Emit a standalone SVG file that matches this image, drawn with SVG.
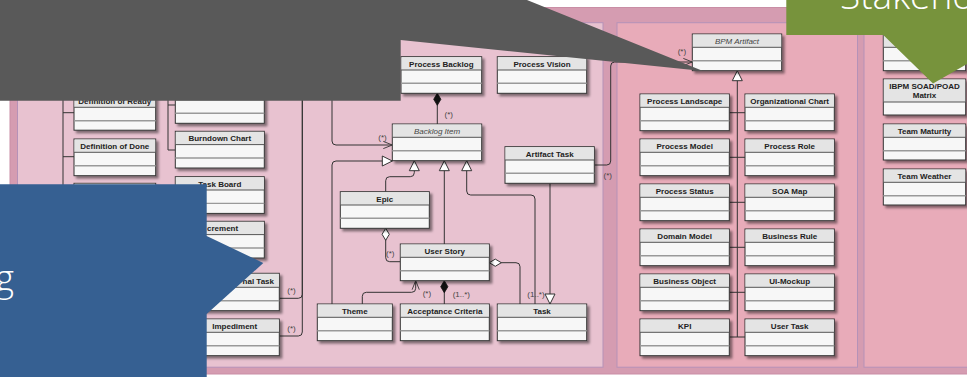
<svg xmlns="http://www.w3.org/2000/svg" width="967" height="377" viewBox="0 0 967 377">
  <defs>
    <style>
      .frame { fill: #d59cb1; stroke: #c98ea5; stroke-width: 1; }
      .pkgA { fill: #e8c2d0; stroke: #b592b8; stroke-width: 1; }
      .pkgB { fill: #e8abb9; stroke: #b592b8; stroke-width: 1; }
      .box { fill: #f7f7f7; stroke: #333; stroke-width: 1; filter: url(#shadow); }
      .hd { fill: #e4e4e4; stroke: none; }
      .s1 { stroke: #555; stroke-width: 1; fill: none; }
      .s2 { stroke: #999; stroke-width: 1.4; fill: none; }
      .t { font-family: "Liberation Sans", Arial, sans-serif; font-size: 8px; font-weight: bold; fill: #222; text-anchor: middle; }
      .ti { font-family: "Liberation Sans", Arial, sans-serif; font-size: 8px; font-style: italic; fill: #444; text-anchor: middle; }
      .lbl { font-family: "Liberation Sans", Arial, sans-serif; font-size: 8px; fill: #444; }
      .conn { fill: none; stroke: #333; stroke-width: 1; }
      .callout-text { font-family: "Open Sans", "Liberation Sans", sans-serif; font-weight: 300; fill: #ffffff; }
    </style>
    <filter id="shadow" x="-10%" y="-10%" width="130%" height="140%">
      <feDropShadow dx="2.5" dy="2.5" stdDeviation="1.2" flood-color="#000" flood-opacity="0.45"/>
    </filter>
    <marker id="tri" viewBox="0 0 10 10" refX="10" refY="5" markerWidth="10" markerHeight="10" markerUnits="userSpaceOnUse" orient="auto" overflow="visible">
      <path d="M0,0 L10,5 L0,10 Z" fill="#fff" stroke="#333" stroke-width="1"/>
    </marker>
    <marker id="open" viewBox="0 0 10 10" refX="10" refY="5" markerWidth="9" markerHeight="9" markerUnits="userSpaceOnUse" orient="auto" overflow="visible">
      <path d="M0,1 L10,5 L0,9" fill="none" stroke="#333" stroke-width="1"/>
    </marker>
    <marker id="diaFill" viewBox="0 0 12 8" refX="0" refY="4" markerWidth="12" markerHeight="8" markerUnits="userSpaceOnUse" orient="auto" overflow="visible">
      <path d="M0,4 L6,0.4 L12,4 L6,7.6 Z" fill="#111" stroke="#111" stroke-width="0.8"/>
    </marker>
    <marker id="diaOpen" viewBox="0 0 12 8" refX="0" refY="4" markerWidth="12" markerHeight="8" markerUnits="userSpaceOnUse" orient="auto" overflow="visible">
      <path d="M0,4 L6,0.4 L12,4 L6,7.6 Z" fill="#fff" stroke="#333" stroke-width="1"/>
    </marker>
  </defs>

  <rect x="0" y="0" width="967" height="377" fill="#ffffff"/>

  <!-- packages -->
  <g id="packages">
    <rect class="frame" x="10" y="7.5" width="965" height="366.5"/>
    <rect class="pkgA" x="17.5" y="22.7" width="585.5" height="344.5"/>
    <rect class="pkgB" x="617" y="22.7" width="240.5" height="344.5"/>
    <rect class="pkgB" x="864" y="22.7" width="120" height="344.5"/>
  </g>

  <!-- connectors -->
  <g id="connectors">
    <path class="conn" d="M63,96 V200 M63,112.7 H74 M63,156.7 H74"/>
    <path class="conn" d="M168,96 V150 M168,105 H175.3 M168,150 H175.3"/>
    <path class="conn" d="M279.3,298.3 H298.3 Q302.3,298.3 302.3,294.3 V96"/>
    <path class="conn" d="M279.3,336 H298.3 Q302.3,336 302.3,332 V96"/>
    <path class="conn" d="M332,96 V141 Q332,145 336,145 H392.3" marker-end="url(#open)"/>
    <path class="conn" d="M332,304 V165 Q332,161 336,161 H392.3" marker-end="url(#tri)"/>
    <path class="conn" d="M437.3,93.3 V124" marker-start="url(#diaFill)"/>
    <path class="conn" d="M385.7,191.7 V180.7 Q385.7,176.7 389.7,176.7 H410.3 Q414.3,176.7 414.3,172.7 V160.7" marker-end="url(#tri)"/>
    <path class="conn" d="M444.3,244 V160.7" marker-end="url(#tri)"/>
    <path class="conn" d="M535,304 V199 Q535,195 531,195 H470.7 Q466.7,195 466.7,191 V160.7" marker-end="url(#tri)"/>
    <path class="conn" d="M550,183.3 V304" marker-end="url(#tri)"/>
    <path class="conn" d="M385.7,228.3 V257.7 Q385.7,261.7 389.7,261.7 H400.3" marker-start="url(#diaOpen)"/>
    <path class="conn" d="M489.3,262.7 H516 Q520,262.7 520,266.7 V304" marker-start="url(#diaOpen)"/>
    <path class="conn" d="M444.3,280.7 V304" marker-start="url(#diaFill)"/>
    <path class="conn" d="M362.3,304 V296.3 Q362.3,292.3 366.3,292.3 H411.7 Q415.7,292.3 415.7,288.3 V280.7" marker-end="url(#open)"/>
    <path class="conn" d="M594.3,165 H606.7 Q610.7,165 610.7,161 V66 Q610.7,62 614.7,62 H692.3" marker-end="url(#open)"/>
    <path class="conn" d="M737.3,337 V70.7" marker-end="url(#tri)"/>
    <path class="conn" d="M729.3,112.7 H745 M729.3,157.3 H745 M729.3,202.3 H745 M729.3,247.3 H745 M729.3,292.3 H745 M729.3,337 H745"/>

    <text class="lbl" x="444.5" y="117">(*)</text>
    <text class="lbl" x="378.3" y="140">(*)</text>
    <text class="lbl" x="603.5" y="178">(*)</text>
    <text class="lbl" x="677.7" y="54">(*)</text>
    <text class="lbl" x="386" y="255.5">(*)</text>
    <text class="lbl" x="422.7" y="295.5">(*)</text>
    <text class="lbl" x="452.7" y="296.5">(1..*)</text>
    <text class="lbl" x="527.3" y="296.5">(1..*)</text>
    <text class="lbl" x="287.3" y="293.3">(*)</text>
    <text class="lbl" x="287.3" y="331.3">(*)</text>
  </g>

  <!-- classes: left package -->
  <g id="definition-of-ready">
    <rect class="box" x="74" y="93.5" width="81.7" height="36.7"/>
    <rect class="hd" x="74.5" y="94" width="80.7" height="13.3"/>
    <path class="s1" d="M74,107.3 h81.7"/><path class="s2" d="M74,120.7 h81.7"/>
    <text class="t" x="114.8" y="104">Definition of Ready</text>
  </g>
  <g id="definition-of-done">
    <rect class="box" x="74" y="139" width="81.7" height="36.7"/>
    <rect class="hd" x="74.5" y="139.5" width="80.7" height="12.8"/>
    <path class="s1" d="M74,152.3 h81.7"/><path class="s2" d="M74,165.7 h81.7"/>
    <text class="t" x="114.8" y="149">Definition of Done</text>
  </g>
  <g id="col1-third">
    <rect class="box" x="74" y="183.3" width="81.7" height="36.7"/>
    <rect class="hd" x="74.5" y="183.8" width="80.7" height="12.8"/>
    <path class="s1" d="M74,196.6 h81.7"/>
  </g>
  <g id="col2-first">
    <rect class="box" x="175.3" y="86.6" width="89" height="36.7"/>
    <rect class="hd" x="175.8" y="87.1" width="88" height="12.8"/>
    <path class="s1" d="M175.3,99.9 h89"/><path class="s2" d="M175.3,113.3 h89"/>
  </g>
  <g id="burndown-chart">
    <rect class="box" x="175.3" y="131.3" width="89" height="36.7"/>
    <rect class="hd" x="175.8" y="131.8" width="88" height="12.8"/>
    <path class="s1" d="M175.3,144.6 h89"/><path class="s2" d="M175.3,158 h89"/>
    <text class="t" x="219.8" y="141.3">Burndown Chart</text>
  </g>
  <g id="task-board">
    <rect class="box" x="175.3" y="176.7" width="89" height="36.7"/>
    <rect class="hd" x="175.8" y="177.2" width="88" height="12.8"/>
    <path class="s1" d="M175.3,190 h89"/><path class="s2" d="M175.3,203.4 h89"/>
    <text class="t" x="219.8" y="186.5">Task Board</text>
  </g>
  <g id="increment">
    <rect class="box" x="175.3" y="221.3" width="89" height="36.7"/>
    <rect class="hd" x="175.8" y="221.8" width="88" height="12.8"/>
    <path class="s1" d="M175.3,234.6 h89"/><path class="s2" d="M175.3,248 h89"/>
    <text class="t" x="207" y="231.3" style="text-anchor:start">crement</text>
  </g>
  <g id="additional-task">
    <rect class="box" x="190" y="273.3" width="89.3" height="37.4"/>
    <rect class="hd" x="190.5" y="273.8" width="88.3" height="13.5"/>
    <path class="s1" d="M190,287.3 h89.3"/><path class="s2" d="M190,300.7 h89.3"/>
    <text class="t" x="274" y="283.8" style="text-anchor:end">nal Task</text>
  </g>
  <g id="impediment">
    <rect class="box" x="190" y="319" width="89.3" height="36.7"/>
    <rect class="hd" x="190.5" y="319.5" width="88.3" height="12.8"/>
    <path class="s1" d="M190,332.3 h89.3"/><path class="s2" d="M190,345.7 h89.3"/>
    <text class="t" x="234.7" y="329">Impediment</text>
  </g>
  <g id="process-backlog">
    <rect class="box" x="401" y="56.7" width="80.7" height="36.6"/>
    <rect class="hd" x="401.5" y="57.2" width="79.7" height="12.8"/>
    <path class="s1" d="M401,70 h80.7"/><path class="s2" d="M401,83.3 h80.7"/>
    <text class="t" x="441.3" y="66.5">Process Backlog</text>
  </g>
  <g id="process-vision">
    <rect class="box" x="497.3" y="56.7" width="89.4" height="36.6"/>
    <rect class="hd" x="497.8" y="57.2" width="88.4" height="12.8"/>
    <path class="s1" d="M497.3,70 h89.4"/><path class="s2" d="M497.3,83.3 h89.4"/>
    <text class="t" x="542" y="66.5">Process Vision</text>
  </g>
  <g id="backlog-item">
    <rect class="box" x="392.3" y="124" width="89.4" height="36.7"/>
    <rect class="hd" x="392.8" y="124.5" width="88.4" height="12.8"/>
    <path class="s1" d="M392.3,137.3 h89.4"/><path class="s2" d="M392.3,150.7 h89.4"/>
    <text class="ti" x="437" y="134">Backlog Item</text>
  </g>
  <g id="artifact-task">
    <rect class="box" x="505" y="146.7" width="89.3" height="36.6"/>
    <rect class="hd" x="505.5" y="147.2" width="88.3" height="12.8"/>
    <path class="s1" d="M505,160 h89.3"/><path class="s2" d="M505,173.3 h89.3"/>
    <text class="t" x="549.7" y="156.5">Artifact Task</text>
  </g>
  <g id="epic">
    <rect class="box" x="340.3" y="191.7" width="89" height="36.6"/>
    <rect class="hd" x="340.8" y="192.2" width="88" height="12.8"/>
    <path class="s1" d="M340.3,205 h89"/><path class="s2" d="M340.3,218.3 h89"/>
    <text class="t" x="384.8" y="201.5">Epic</text>
  </g>
  <g id="user-story">
    <rect class="box" x="400.3" y="244" width="89" height="36.7"/>
    <rect class="hd" x="400.8" y="244.5" width="88" height="12.8"/>
    <path class="s1" d="M400.3,257.3 h89"/><path class="s2" d="M400.3,270.7 h89"/>
    <text class="t" x="444.8" y="253.8">User Story</text>
  </g>
  <g id="theme">
    <rect class="box" x="317.3" y="304" width="75" height="36.7"/>
    <rect class="hd" x="317.8" y="304.5" width="74" height="12.8"/>
    <path class="s1" d="M317.3,317.3 h75"/><path class="s2" d="M317.3,330.7 h75"/>
    <text class="t" x="354.8" y="313.8">Theme</text>
  </g>
  <g id="acceptance-criteria">
    <rect class="box" x="400.3" y="304" width="89" height="36.7"/>
    <rect class="hd" x="400.8" y="304.5" width="88" height="12.8"/>
    <path class="s1" d="M400.3,317.3 h89"/><path class="s2" d="M400.3,330.7 h89"/>
    <text class="t" x="444.8" y="313.8">Acceptance Criteria</text>
  </g>
  <g id="task">
    <rect class="box" x="497.3" y="304" width="89.4" height="36.7"/>
    <rect class="hd" x="497.8" y="304.5" width="88.4" height="12.8"/>
    <path class="s1" d="M497.3,317.3 h89.4"/><path class="s2" d="M497.3,330.7 h89.4"/>
    <text class="t" x="542" y="313.8">Task</text>
  </g>

  <!-- classes: middle package -->
  <g id="bpm-artifact">
    <rect class="box" x="692.3" y="34" width="89.4" height="36.7"/>
    <rect class="hd" x="692.8" y="34.5" width="88.4" height="12.8"/>
    <path class="s1" d="M692.3,47.3 h89.4"/><path class="s2" d="M692.3,60.7 h89.4"/>
    <text class="ti" x="737" y="44">BPM Artifact</text>
  </g>
  <g id="process-landscape">
    <rect class="box" x="640" y="94" width="89.3" height="36.7"/>
    <rect class="hd" x="640.5" y="94.5" width="88.3" height="12.8"/>
    <path class="s1" d="M640,107.3 h89.3"/><path class="s2" d="M640,120.7 h89.3"/>
    <text class="t" x="684.7" y="104">Process Landscape</text>
  </g>
  <g id="organizational-chart">
    <rect class="box" x="745" y="94" width="89.3" height="36.7"/>
    <rect class="hd" x="745.5" y="94.5" width="88.3" height="12.8"/>
    <path class="s1" d="M745,107.3 h89.3"/><path class="s2" d="M745,120.7 h89.3"/>
    <text class="t" x="789.7" y="104">Organizational Chart</text>
  </g>
  <g id="process-model">
    <rect class="box" x="640" y="139" width="89.3" height="36.7"/>
    <rect class="hd" x="640.5" y="139.5" width="88.3" height="12.8"/>
    <path class="s1" d="M640,152.3 h89.3"/><path class="s2" d="M640,165.7 h89.3"/>
    <text class="t" x="684.7" y="149">Process Model</text>
  </g>
  <g id="process-role">
    <rect class="box" x="745" y="139" width="89.3" height="36.7"/>
    <rect class="hd" x="745.5" y="139.5" width="88.3" height="12.8"/>
    <path class="s1" d="M745,152.3 h89.3"/><path class="s2" d="M745,165.7 h89.3"/>
    <text class="t" x="789.7" y="149">Process Role</text>
  </g>
  <g id="process-status">
    <rect class="box" x="640" y="184" width="89.3" height="36.7"/>
    <rect class="hd" x="640.5" y="184.5" width="88.3" height="12.8"/>
    <path class="s1" d="M640,197.3 h89.3"/><path class="s2" d="M640,210.7 h89.3"/>
    <text class="t" x="684.7" y="194">Process Status</text>
  </g>
  <g id="soa-map">
    <rect class="box" x="745" y="184" width="89.3" height="36.7"/>
    <rect class="hd" x="745.5" y="184.5" width="88.3" height="12.8"/>
    <path class="s1" d="M745,197.3 h89.3"/><path class="s2" d="M745,210.7 h89.3"/>
    <text class="t" x="789.7" y="194">SOA Map</text>
  </g>
  <g id="domain-model">
    <rect class="box" x="640" y="229" width="89.3" height="36.7"/>
    <rect class="hd" x="640.5" y="229.5" width="88.3" height="12.8"/>
    <path class="s1" d="M640,242.3 h89.3"/><path class="s2" d="M640,255.7 h89.3"/>
    <text class="t" x="684.7" y="239">Domain Model</text>
  </g>
  <g id="business-rule">
    <rect class="box" x="745" y="229" width="89.3" height="36.7"/>
    <rect class="hd" x="745.5" y="229.5" width="88.3" height="12.8"/>
    <path class="s1" d="M745,242.3 h89.3"/><path class="s2" d="M745,255.7 h89.3"/>
    <text class="t" x="789.7" y="239">Business Rule</text>
  </g>
  <g id="business-object">
    <rect class="box" x="640" y="274" width="89.3" height="36.7"/>
    <rect class="hd" x="640.5" y="274.5" width="88.3" height="12.8"/>
    <path class="s1" d="M640,287.3 h89.3"/><path class="s2" d="M640,300.7 h89.3"/>
    <text class="t" x="684.7" y="284">Business Object</text>
  </g>
  <g id="ui-mockup">
    <rect class="box" x="745" y="274" width="89.3" height="36.7"/>
    <rect class="hd" x="745.5" y="274.5" width="88.3" height="12.8"/>
    <path class="s1" d="M745,287.3 h89.3"/><path class="s2" d="M745,300.7 h89.3"/>
    <text class="t" x="789.7" y="284">UI-Mockup</text>
  </g>
  <g id="kpi">
    <rect class="box" x="640" y="319" width="89.3" height="36.7"/>
    <rect class="hd" x="640.5" y="319.5" width="88.3" height="12.8"/>
    <path class="s1" d="M640,332.3 h89.3"/><path class="s2" d="M640,345.7 h89.3"/>
    <text class="t" x="684.7" y="329">KPI</text>
  </g>
  <g id="user-task">
    <rect class="box" x="745" y="319" width="89.3" height="36.7"/>
    <rect class="hd" x="745.5" y="319.5" width="88.3" height="12.8"/>
    <path class="s1" d="M745,332.3 h89.3"/><path class="s2" d="M745,345.7 h89.3"/>
    <text class="t" x="789.7" y="329">User Task</text>
  </g>

  <!-- classes: right package -->
  <g id="right-first">
    <rect class="box" x="883.3" y="34" width="82.4" height="36.7"/>
    <rect class="hd" x="883.8" y="34.5" width="81.4" height="12.8"/>
    <path class="s1" d="M883.3,47.3 h82.4"/><path class="s2" d="M883.3,60.7 h82.4"/>
  </g>
  <g id="ibpm-soad-poad-matrix">
    <rect class="box" x="883.3" y="79" width="82.4" height="36"/>
    <rect class="hd" x="883.8" y="79.5" width="81.4" height="22.5"/>
    <path class="s1" d="M883.3,102 h82.4"/>
    <text class="t" x="924.5" y="89">IBPM SOAD/POAD</text>
    <text class="t" x="924.5" y="98.2">Matrix</text>
  </g>
  <g id="team-maturity">
    <rect class="box" x="883.3" y="124" width="82.4" height="36"/>
    <rect class="hd" x="883.8" y="124.5" width="81.4" height="12.8"/>
    <path class="s1" d="M883.3,137.3 h82.4"/><path class="s2" d="M883.3,150.7 h82.4"/>
    <text class="t" x="924.5" y="134">Team Maturity</text>
  </g>
  <g id="team-weather">
    <rect class="box" x="883.3" y="169" width="82.4" height="36"/>
    <rect class="hd" x="883.8" y="169.5" width="81.4" height="12.8"/>
    <path class="s1" d="M883.3,182.3 h82.4"/><path class="s2" d="M883.3,195.7 h82.4"/>
    <text class="t" x="924.5" y="179">Team Weather</text>
  </g>

  <!-- callouts over the diagram -->
  <g id="callout-gray">
    <path d="M-5,-5 H514.6 L703,71 L400.7,40 V100.7 H-5 Z" fill="#595959"/>
  </g>
  <g id="callout-blue">
    <path d="M-5,184.3 H206.7 V236 L263.3,263 L206.7,314 V382 H-5 Z" fill="#366092"/>
    <text class="callout-text" x="14" y="291" font-size="36" text-anchor="end">g</text>
  </g>
  <g id="callout-green">
    <path d="M786.3,-5 H1030 V35 H1018 L933,83.5 L883.3,35 H786.3 Z" fill="#77933c"/>
    <text class="callout-text" x="840" y="9" font-size="37">Stakeho</text>
  </g>
</svg>
